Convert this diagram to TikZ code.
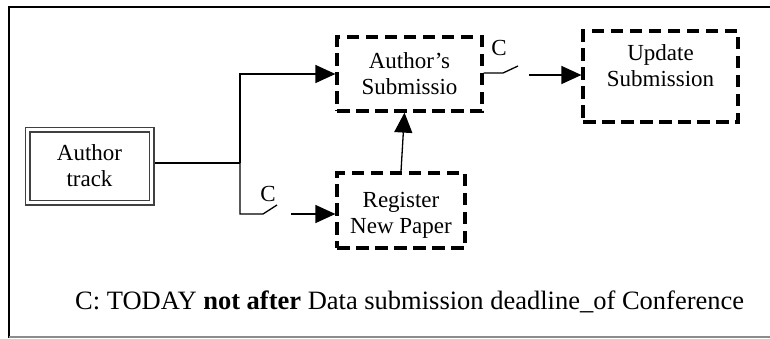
\documentclass[tikz,border=0pt]{standalone}
\usepackage{fontspec}
\setmainfont{Liberation Serif}
\usetikzlibrary{arrows.meta}
\begin{document}
\begin{tikzpicture}[x=1pt,y=-1pt,
  every node/.style={font=\fontsize{23}{26}\selectfont, align=center, inner sep=0pt},
  dashbox/.style={draw, line width=3.2pt, dash pattern=on 12.5pt off 6.5pt},
  dblbox/.style={draw=black!75, double, double distance=3.8pt, line width=1.1pt},
  link/.style={line width=1.3pt},
  arrow/.style={link, -{Triangle[length=20pt,width=18pt]}}]
  \useasboundingbox (0,0) rectangle (770,338);
  % outer frame
  \draw[line width=1.5pt] (9,338) -- (9,7) -- (770,7);
  \draw[line width=1.5pt, black!45] (9,337) -- (770,337);

  % boxes
  \node[dblbox, minimum width=124pt, minimum height=73pt] (at) at (89.5,166) {Author\\track};
  \node[dashbox, minimum width=145pt, minimum height=74pt] (as) at (409.5,74) {Author’s\\Submissio};
  \node[dashbox, minimum width=155pt, minimum height=91pt,
        label={[yshift=11pt]center:Update\\Submission}] (us) at (660.5,76.5) {};
  \node[dashbox, minimum width=128pt, minimum height=75pt,
        label={[yshift=-5pt]center:Register\\New Paper}] (rp) at (401,210.5) {};

  % branching from the author track
  \coordinate (j) at (240,163);
  \draw[link] ([xshift=3pt]at.east |- j) -- (j);
  \draw[arrow] (j) |- (as.west);

  % lower branch through switch C
  \coordinate (s1) at (263,214);
  \coordinate (s1b) at (277,205);
  \coordinate (s1c) at (291,214);
  \draw[link] (j) |- (s1) -- (s1b);
  \draw[arrow] (s1c) -- (rp.west |- s1c);
  \node (c1) at (268,194) {C};

  % register feeds the submission
  \draw[arrow] (rp.north) -- ([xshift=-5pt]as.south);

  % right switch C towards the update
  \coordinate (s2) at (503,73);
  \coordinate (s2b) at (518,66);
  \coordinate (s2c) at (529,75);
  \draw[link] (as.east |- s2) -- (s2) -- (s2b);
  \draw[arrow] (s2c) -- (us.west |- s2c);
  \node (c2) at (499,48) {C};

  % condition legend
  \node[anchor=base west, font=\fontsize{26.5}{30}\selectfont] (legend) at (75,309)
    {C: TODAY \textbf{not after} Data submission deadline\_of Conference};
\end{tikzpicture}
\end{document}
